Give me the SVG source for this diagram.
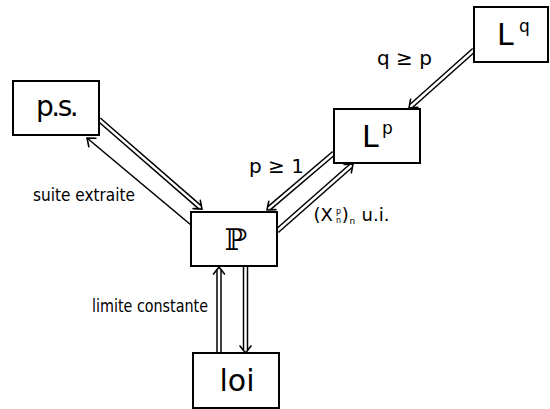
<svg xmlns="http://www.w3.org/2000/svg" width="550" height="409" viewBox="0 0 550 409">
  <style>
    .box { fill: #fff; stroke: #000; stroke-width: 2; }
    .txt { font-family: "DejaVu Sans", "Liberation Sans", sans-serif; fill: #000; }
    .bb { font-family: "DejaVu Serif", "DejaVu Sans", serif; fill: #000; }
    .outer { fill: none; stroke: #000; stroke-width: 5.5; stroke-linecap: butt; }
    .inner { fill: none; stroke: #fff; stroke-width: 2.5; stroke-linecap: butt; }
    .single { fill: none; stroke: #000; stroke-width: 1.6; }
    .head { fill: none; stroke: #000; stroke-width: 1.6; stroke-linejoin: miter; stroke-linecap: round; }
  </style>
  <defs>
    <!-- open chevron; the double-line variant puts its tip 2.5px past the line end -->
    <marker id="tip" markerUnits="userSpaceOnUse" markerWidth="20" markerHeight="20" viewBox="-10 -10 20 20" refX="0" refY="0" orient="auto" overflow="visible">
      <path class="head" d="M-7,-5.5 L0,0 L-7,5.5"/>
    </marker>
    <marker id="dtip" markerUnits="userSpaceOnUse" markerWidth="20" markerHeight="20" viewBox="-10 -10 20 20" refX="-2.5" refY="0" orient="auto" overflow="visible">
      <path class="head" d="M-7,-5.5 L0,0 L-7,5.5"/>
    </marker>
  </defs>

  <g id="connectors">
    <!-- p.s. => P -->
    <g><path class="outer" d="M99,119.5 L200.1,207.4" marker-end="url(#dtip)"/><path class="inner" d="M99,119.5 L200.1,207.4"/></g>
    <!-- P -> p.s. (suite extraite) -->
    <path class="single" d="M191,225 L87,138" marker-end="url(#tip)"/>
    <!-- L^q => L^p -->
    <g><path class="outer" d="M474,50 L410.9,106.3" marker-end="url(#dtip)"/><path class="inner" d="M474,50 L410.9,106.3"/></g>
    <!-- L^p => P -->
    <g><path class="outer" d="M334,153 L268.9,208.4" marker-end="url(#dtip)"/><path class="inner" d="M334,153 L268.9,208.4"/></g>
    <!-- P => L^p -->
    <g><path class="outer" d="M277,231 L351.1,165.7" marker-end="url(#dtip)"/><path class="inner" d="M277,231 L351.1,165.7"/></g>
    <!-- loi => P -->
    <g><path class="outer" d="M219,353 L219,269.5" marker-end="url(#dtip)"/><path class="inner" d="M219,353 L219,269.5"/></g>
    <!-- P => loi -->
    <g><path class="outer" d="M245.5,266 L245.5,350.5" marker-end="url(#dtip)"/><path class="inner" d="M245.5,266 L245.5,350.5"/></g>
  </g>

  <g id="node-ps">
    <rect class="box" x="13" y="81" width="86" height="54"/>
    <text class="txt" x="36" y="116" font-size="28" letter-spacing="-2.5">p.s.</text>
  </g>
  <g id="node-P">
    <rect class="box" x="191" y="212" width="86" height="54"/>
    <text class="bb" x="236" y="250" font-size="30" text-anchor="middle">ℙ</text>
  </g>
  <g id="node-loi">
    <rect class="box" x="193" y="353" width="86" height="55"/>
    <text class="txt" x="237" y="391" font-size="30" text-anchor="middle">loi</text>
  </g>
  <g id="node-Lp">
    <rect class="box" x="334" y="109" width="86" height="54"/>
    <text class="txt" x="362" y="147" font-size="30">L</text>
    <text class="txt" x="382" y="134" font-size="17">p</text>
  </g>
  <g id="node-Lq">
    <rect class="box" x="474" y="7" width="74" height="55"/>
    <text class="txt" x="497" y="45" font-size="30">L</text>
    <text class="txt" x="519" y="32" font-size="17">q</text>
  </g>

  <g id="labels">
    <text class="txt" x="377" y="65" font-size="20">q ≥ p</text>
    <text class="txt" x="249" y="173" font-size="20">p ≥ 1</text>
    <text class="txt" x="33" y="200.7" font-size="17.5" textLength="102" lengthAdjust="spacingAndGlyphs">suite extraite</text>
    <text class="txt" x="92" y="311.7" font-size="17.5" textLength="116" lengthAdjust="spacingAndGlyphs">limite constante</text>
    <text class="txt" x="313.5" y="221" font-size="18">(X</text>
    <text class="txt" x="336" y="213.5" font-size="8">p</text>
    <text class="txt" x="336" y="223" font-size="8">n</text>
    <text class="txt" x="341.8" y="221" font-size="18">)</text>
    <text class="txt" x="349.5" y="223.5" font-size="9">n</text>
    <text class="txt" x="361.5" y="221" font-size="18">u.i.</text>
  </g>
</svg>
